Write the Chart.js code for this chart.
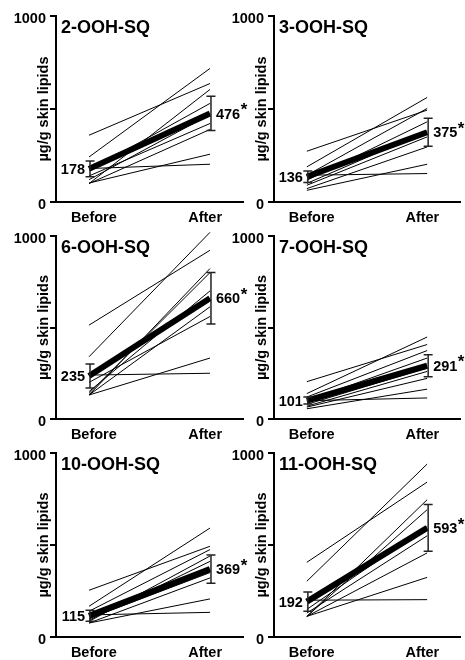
<!DOCTYPE html>
<html><head><meta charset="utf-8">
<script src="https://cdn.jsdelivr.net/npm/chart.js@4"></script>
<style>
html,body{margin:0;padding:0;background:#fff;width:465px;height:660px;overflow:hidden;position:relative}
canvas{position:absolute}
</style></head><body>
<canvas id="c0"></canvas><canvas id="c1"></canvas>
<canvas id="c2"></canvas><canvas id="c3"></canvas>
<canvas id="c4"></canvas><canvas id="c5"></canvas>
<script>
// ---- data ----
const panelTitles = ['2-OOH-SQ','3-OOH-SQ','6-OOH-SQ','7-OOH-SQ','10-OOH-SQ','11-OOH-SQ'];
const timeLabels = ['Before','After'];
const yAxisTitle = 'µg/g skin lipids';
const yTickValues = [0, 500, 1000];
const yTickLabels = ['0', '', '1000'];
const meanBefore = [178, 136, 235, 101, 115, 192];
const meanAfter  = [476, 375, 660, 291, 369, 593];
const semBefore  = [42, 31, 65, 19, 30, 52];
const semAfter   = [92, 75, 141, 60, 77, 127];
const before2OOH  = [359, 242, 180, 170, 140, 102, 99, 99, 120];
const after2OOH   = [637, 718, 203, 530, 422, 257, 605, 390, 470];
const before3OOH  = [273, 189, 144, 117, 72, 63, 144, 100, 90];
const after3OOH   = [494, 562, 153, 431, 296, 203, 503, 380, 350];
const before6OOH  = [513, 340, 240, 131, 140, 131, 131, 150, 200];
const after6OOH   = [922, 1020, 250, 822, 800, 613, 333, 700, 560];
const before7OOH  = [204, 139, 120, 100, 65, 56, 100, 80, 70];
const after7OOH   = [407, 448, 374, 333, 222, 163, 115, 280, 260];
const before10OOH = [254, 167, 140, 91, 76, 76, 120, 100, 85];
const after10OOH  = [493, 592, 475, 411, 321, 207, 134, 350, 440];
const before11OOH = [406, 303, 200, 112, 112, 112, 112, 150, 130];
const after11OOH  = [842, 940, 203, 746, 692, 457, 324, 600, 550];
const subjectsBefore = [before2OOH, before3OOH, before6OOH, before7OOH, before10OOH, before11OOH];
const subjectsAfter  = [after2OOH, after3OOH, after6OOH, after7OOH, after10OOH, after11OOH];

// ---- layout ----
const FONT = 'Arial, "Liberation Sans", Helvetica, sans-serif';
const cols = [{left:0, width:252, padR:9}, {left:218, width:247, padR:5}];
const rows = [{top:0, height:228}, {top:220, height:225}, {top:437, height:226}];

function makePanel(i){
  const col = cols[i % 2], row = rows[Math.floor(i / 2)];
  const cv = document.getElementById('c' + i);
  cv.width = col.width; cv.height = row.height;
  cv.style.left = col.left + 'px'; cv.style.top = row.top + 'px';
  cv.style.width = col.width + 'px'; cv.style.height = row.height + 'px';

  const datasets = [];
  datasets.push({
    data: [{x:0, y:meanBefore[i]}, {x:1, y:meanAfter[i]}],
    borderColor:'#000', borderWidth:6, pointRadius:0, borderCapStyle:'butt'
  });
  subjectsBefore[i].forEach((b, k) => {
    datasets.push({
      data: [{x:0, y:b}, {x:1, y:subjectsAfter[i][k]}],
      borderColor:'#000', borderWidth:1, pointRadius:0
    });
  });

  const overlay = {
    id:'overlay' + i,
    afterDatasetsDraw(chart){
      const {ctx, chartArea:a, scales:{x, y}} = chart;
      ctx.save();
      // error bars
      ctx.strokeStyle = '#222'; ctx.lineWidth = 1.5;
      [[0, meanBefore[i], semBefore[i]], [1, meanAfter[i], semAfter[i]]].forEach(([t, m, s]) => {
        const px = x.getPixelForValue(t) + 1;
        const yt = y.getPixelForValue(m + s), yb = y.getPixelForValue(m - s);
        ctx.beginPath();
        ctx.moveTo(px, yt); ctx.lineTo(px, yb);
        ctx.moveTo(px - 4.5, yt); ctx.lineTo(px + 4.5, yt);
        ctx.moveTo(px - 4.5, yb); ctx.lineTo(px + 4.5, yb);
        ctx.stroke();
      });
      // value labels
      ctx.fillStyle = '#000';
      ctx.font = 'bold 14.5px ' + FONT;
      ctx.textBaseline = 'alphabetic';
      const yB = y.getPixelForValue(meanBefore[i]) + 5.2;
      ctx.textAlign = 'right';
      ctx.fillText(String(meanBefore[i]), x.getPixelForValue(0) - 4, yB);
      const yA = y.getPixelForValue(meanAfter[i]) + 5.2;
      const xa = x.getPixelForValue(1) + 6;
      ctx.textAlign = 'left';
      const s = String(meanAfter[i]);
      ctx.fillText(s, xa, yA);
      const w = ctx.measureText(s).width;
      ctx.font = 'bold 17px ' + FONT;
      ctx.fillText('*', xa + w + 0.5, yA - 3.5);
      // panel title
      ctx.font = 'bold 18px ' + FONT;
      ctx.fillText(panelTitles[i], a.left + 5, a.top + 17);
      ctx.restore();
    },
    afterDraw(chart){
      const {ctx, chartArea:a} = chart;
      ctx.save();
      ctx.translate(a.left - 12, (a.top + a.bottom) / 2);
      ctx.rotate(-Math.PI / 2);
      ctx.fillStyle = '#000';
      ctx.font = 'bold 14.5px ' + FONT;
      ctx.textAlign = 'center'; ctx.textBaseline = 'middle';
      ctx.fillText(yAxisTitle, 0, 0);
      ctx.restore();
    }
  };

  new Chart(cv, {
    type:'line',
    data:{datasets},
    options:{
      responsive:false, animation:false, events:[],
      layout:{padding:{top:16, right:col.padR, left:0, bottom:0}},
      plugins:{legend:{display:false}, tooltip:{enabled:false}},
      elements:{line:{tension:0}},
      clip:false,
      scales:{
        x:{
          type:'linear', min:-0.273, max:1.273,
          afterBuildTicks(sc){ sc.ticks = [{value:0.04}, {value:0.96}]; },
          afterFit(sc){ sc.height = 26; },
          ticks:{
            autoSkip:false, maxRotation:0, padding:7.5, color:'#000',
            font:{family:FONT, size:14.5, weight:'bold'},
            callback:(v, idx) => timeLabels[idx]
          },
          grid:{display:false, drawTicks:false},
          border:{display:true, color:'#000', width:2}
        },
        y:{
          type:'linear', min:0, max:1000,
          afterBuildTicks(sc){ sc.ticks = yTickValues.map(v => ({value:v})); },
          afterFit(sc){ sc.width = 56; },
          ticks:{
            padding:4, color:'#000', labelOffset:3,
            font:{family:FONT, size:14.5, weight:'bold'},
            callback:(v) => yTickLabels[yTickValues.indexOf(v)]
          },
          grid:{drawOnChartArea:false, drawTicks:true, tickLength:6, color:'#000', lineWidth:2},
          border:{display:true, color:'#000', width:2}
        }
      }
    },
    plugins:[overlay]
  });
}
for (let i = 0; i < 6; i++) makePanel(i);
</script>
</body></html>
